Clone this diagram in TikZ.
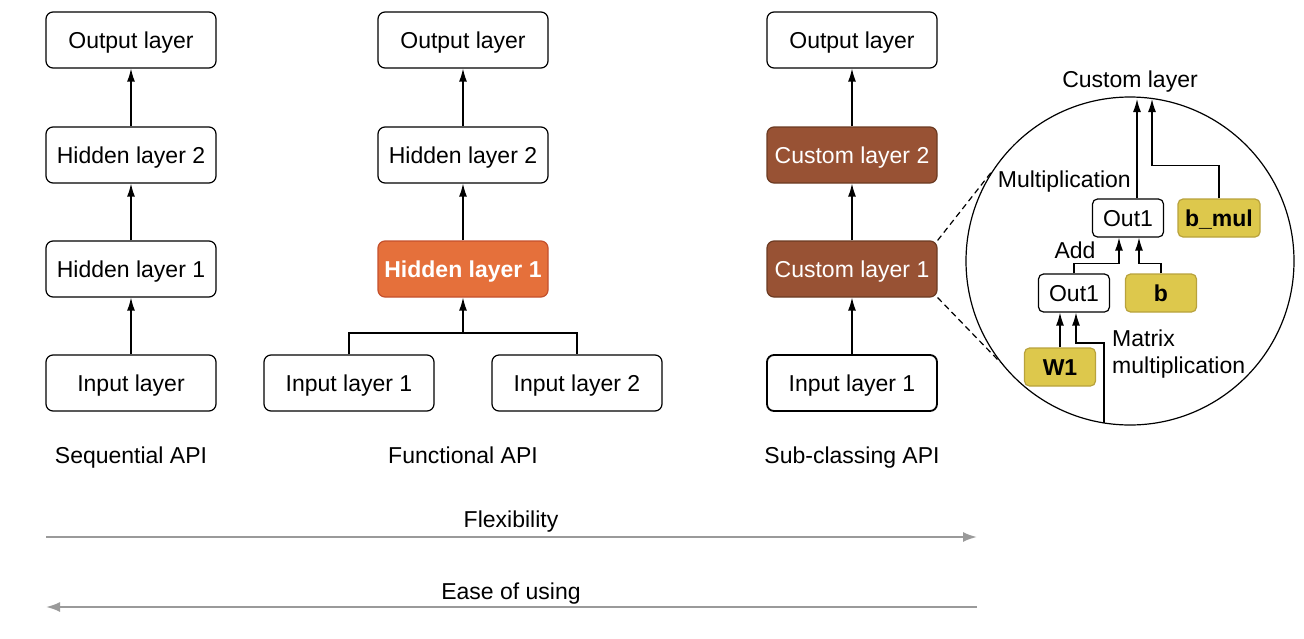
\documentclass[tikz,border=0pt]{standalone}
\usepackage{fontspec}
\setmainfont{Liberation Sans}
\usepackage{xcolor}
\usetikzlibrary{positioning, arrows.meta}
\definecolor{hidorange}{HTML}{E5703B}
\definecolor{hidorangeline}{HTML}{C4502C}
\definecolor{custbrown}{HTML}{985234}
\definecolor{custbrownline}{HTML}{6B3A22}
\definecolor{wyellow}{HTML}{DDC84C}
\definecolor{wyellowline}{HTML}{B8A23C}
\definecolor{scalegray}{HTML}{9A9A9A}

\begin{document}
\begin{tikzpicture}[x=1pt,y=-1pt]
						\tikzstyle{layer}=[draw=black,rounded corners=7pt,line width=1.2pt,minimum width=170pt,minimum height=56pt,text height=16.5pt,text depth=0.5pt,font=\fontsize{23}{27}\selectfont]
						\tikzstyle{small}=[draw=black,rounded corners=5pt,line width=1.2pt,minimum width=71pt,minimum height=38pt,text height=16.5pt,text depth=0.5pt,font=\fontsize{23}{27}\selectfont]
						\tikzstyle{weight}=[small,draw=wyellowline,fill=wyellow,font=\fontsize{23}{27}\selectfont\bfseries]
						\tikzstyle{lbl}=[font=\fontsize{23}{27}\selectfont,inner sep=0pt,anchor=base]
						\tikzstyle{arr}=[-{Latex[length=13pt,width=8pt]},line width=1.3pt]
						\tikzstyle{scalearr}=[-{Latex[length=14pt,width=10pt]},line width=2pt,draw=scalegray]
						\useasboundingbox (0,0) rectangle (1304,638);
						% Sequential API
						\node[layer](sout) at (131,40) {Output layer};
						\node[layer](shid2) at (131,155) {Hidden layer 2};
						\node[layer](shid1) at (131,269) {Hidden layer 1};
						\node[layer](sin) at (131,383) {Input layer};
						\node[lbl](slabel) at (131,463) {Sequential API};
						% Functional API
						\node[layer](fout) at (463,40) {Output layer};
						\node[layer](fhid2) at (463,155) {Hidden layer 2};
						\node[layer,draw=hidorangeline,fill=hidorange,text=white,font=\fontsize{23}{27}\selectfont\bfseries](fhid1) at (463,269) {Hidden layer 1};
						\node[layer](fin1) at (349,383) {Input layer 1};
						\node[layer](fin2) at (577,383) {Input layer 2};
						\node[lbl](flabel) at (463,463) {Functional API};
						\coordinate (fjoin) at (463,333);
						% Sub-classing API
						\node[layer](cout) at (852,40) {Output layer};
						\node[layer,draw=custbrownline,fill=custbrown,text=white](ccust2) at (852,155) {Custom layer 2};
						\node[layer,draw=custbrownline,fill=custbrown,text=white](ccust1) at (852,269) {Custom layer 1};
						\node[layer,line width=1.8pt](cin) at (852,383) {Input layer 1};
						\node[lbl](clabel) at (852,463) {Sub-classing API};
						\path[arr]
							(sin) edge node {}(shid1)
							(shid1) edge node {}(shid2)
							(shid2) edge node {}(sout)
							(fjoin) edge node {}(fhid1)
							(fhid1) edge node {}(fhid2)
							(fhid2) edge node {}(fout)
							(cin) edge node {}(ccust1)
							(ccust1) edge node {}(ccust2)
							(ccust2) edge node {}(cout);
						\draw[line width=1.3pt] (fin1.north) |- (fjoin) -| (fin2.north);
						% zoom of the custom layer
						\node[circle,draw=black,line width=1.2pt,minimum size=328pt,inner sep=0pt](zoom) at (1130,261) {};
						\draw[dash pattern=on 6pt off 4pt,line width=1.2pt] (ccust1.north east) -- (zoom.147.5);
						\draw[dash pattern=on 6pt off 4pt,line width=1.2pt] (ccust1.south east) -- (zoom.218);
						\node[lbl](ztitle) at (1130,87) {Custom layer};
						\coordinate (ztop1) at (1137,99);
						\coordinate (ztop2) at (1152,99);
						\coordinate (zbot) at (1104,423);
						\node[small](zout2) at (1128,218) {Out1};
						\node[weight,minimum width=82pt](zbmul) at (1219,218) {b\_mul};
						\node[small](zout1) at (1074,293) {Out1};
						\node[weight](zb) at (1161,293) {b};
						\node[weight](zw1) at (1060,367) {W1};
						\node[lbl,anchor=base east](zmul) at (1131,187) {Multiplication};
						\node[lbl](zadd) at (1075,258) {Add};
						\node[lbl,anchor=base west](zmatmul) at (1112,346) {Matrix};
						\node[lbl,anchor=base west](zmatmul2) at (1112,373) {multiplication};
						\draw[arr] ([xshift=9pt]zout2.north) -- (ztop1);
						\draw[arr] (zbmul.north) -- ++(0,-33) -| (ztop2);
						\draw[arr] (zout1.north) -- ++(0,-10) -| ([xshift=-9pt]zout2.south);
						\draw[arr] (zb.north) -- ++(0,-10) -| ([xshift=11pt]zout2.south);
						\draw[arr] (zw1.north) -- (zw1.north |- zout1.south);
						\draw[arr] (zbot) -- ++(0,-80) -| ([xshift=2pt]zout1.south);
						% flexibility and ease of use
						\coordinate (flexl) at (46,537);
						\coordinate (flexr) at (977,537);
						\coordinate (easel) at (46,607);
						\coordinate (easer) at (977,607);
						\node[lbl](flex) at (511,527) {Flexibility};
						\node[lbl](ease) at (511,599) {Ease of using};
						\draw[scalearr] (flexl) -- (flexr);
						\draw[scalearr] (easer) -- (easel);
					\end{tikzpicture}
\end{document}
